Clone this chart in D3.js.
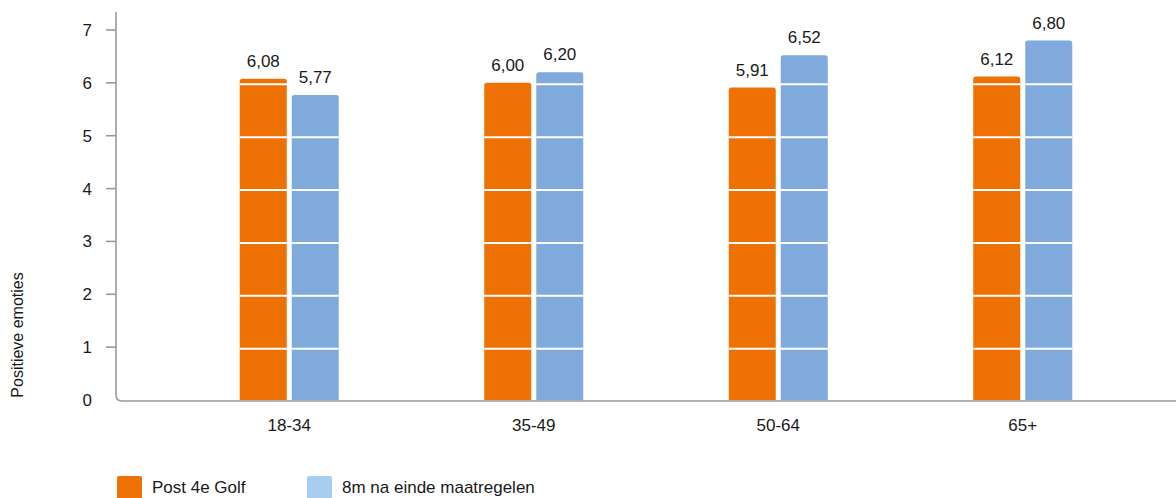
<!DOCTYPE html>
<html><head><meta charset="utf-8">
<script src="https://cdn.jsdelivr.net/npm/d3@7"></script>
<style>
html,body{margin:0;padding:0;background:#fff;}
text{font-family:"Liberation Sans",Arial,sans-serif;fill:#1a1a1a;}
</style></head>
<body>
<svg id="chart" width="1176" height="498"></svg>
<script>
const categories = ["18-34", "35-49", "50-64", "65+"];
const seriesNames = ["Post 4e Golf", "8m na einde maatregelen"];
const postGolf = [6.08, 6.00, 5.91, 6.12];
const naMaatregelen = [5.77, 6.20, 6.52, 6.80];
const yTicks = [0, 1, 2, 3, 4, 5, 6, 7];
const yTitle = "Positieve emoties";

const barColors = ["#EE7203", "#7FAADB"];
const legendColors = ["#EE7203", "#A7CDEF"];
const series = [postGolf, naMaatregelen];

const svg = d3.select("#chart");
const axisX = 116, baseY = 401;

const y = d3.scaleLinear().domain([0, 7]).range([400, 30]);
const x = d3.scaleBand().domain(categories).range([167, 1145]).padding(0);
const barW = 47, gap = 5;

const fmt = v => d3.format(".2f")(v).replace(".", ",");

// bars
const g = svg.append("g");
categories.forEach((c, ci) => {
  const cx = x(c) + x.bandwidth() / 2;
  series.forEach((s, si) => {
    const v = s[ci];
    const x0 = si === 0 ? cx - gap / 2 - barW : cx + gap / 2;
    const top = y(v), bot = y(0), r = 2.5;
    g.append("path")
      .attr("d", `M${x0},${bot} V${top + r} Q${x0},${top} ${x0 + r},${top} H${x0 + barW - r} Q${x0 + barW},${top} ${x0 + barW},${top + r} V${bot} Z`)
      .attr("fill", barColors[si]);
    // white separators at integer values inside the bar
    yTicks.filter(t => t > 0 && t < v).forEach(t => {
      g.append("line").attr("x1", x0).attr("x2", x0 + barW)
        .attr("y1", y(t) + 1.5).attr("y2", y(t) + 1.5)
        .attr("stroke", "#fff").attr("stroke-width", 2);
    });
    g.append("text")
      .attr("x", x0 + barW / 2).attr("y", top - 12)
      .attr("text-anchor", "middle").attr("font-size", 17)
      .text(fmt(v));
  });
});

// axes
const rad = 6;
svg.append("path")
  .attr("d", `M${axisX},12 V${baseY - rad} Q${axisX},${baseY} ${axisX + rad},${baseY} H1176`)
  .attr("fill", "none").attr("stroke", "#999").attr("stroke-width", 1.6);

yTicks.forEach(t => {
  if (t > 0) svg.append("line").attr("x1", axisX - 10).attr("x2", axisX)
    .attr("y1", y(t)).attr("y2", y(t)).attr("stroke", "#999").attr("stroke-width", 1.6);
  svg.append("text").attr("x", 92).attr("y", y(t)).attr("dy", "0.35em")
    .attr("text-anchor", "end").attr("font-size", 17).text(t);
});

categories.forEach(c => {
  svg.append("text").attr("x", x(c) + x.bandwidth() / 2).attr("y", 425).attr("dy", "0.35em")
    .attr("text-anchor", "middle").attr("font-size", 17).text(c);
});

svg.append("text").attr("transform", "translate(23,335) rotate(-90)")
  .attr("text-anchor", "middle").attr("font-size", 16).text(yTitle);

// legend
const legX = [117, 307];
seriesNames.forEach((n, i) => {
  svg.append("rect").attr("x", legX[i]).attr("y", 476).attr("width", 25).attr("height", 25)
    .attr("rx", 2).attr("fill", legendColors[i]);
  svg.append("text").attr("x", legX[i] + 35).attr("y", 487).attr("dy", "0.35em")
    .attr("font-size", 17).text(n);
});
</script>
</body></html>
